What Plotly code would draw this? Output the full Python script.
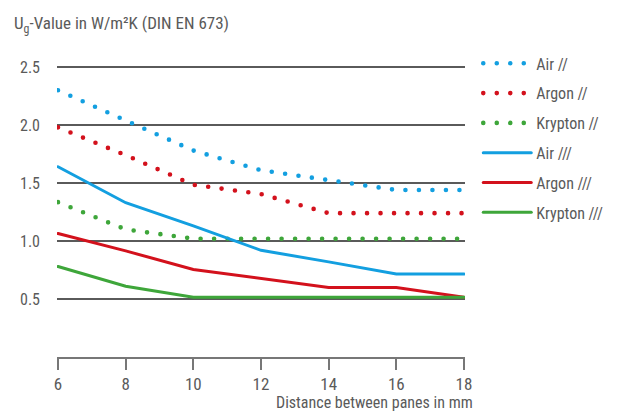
import plotly.graph_objects as go

distance_mm = [6, 8, 10, 12, 14, 16, 18]

air_double = [2.30, 2.04, 1.78, 1.61, 1.525, 1.44, 1.44]
argon_double = [1.98, 1.74, 1.485, 1.405, 1.24, 1.24, 1.24]
krypton_double = [1.335, 1.10, 1.02, 1.02, 1.02, 1.02, 1.02]
air_triple = [1.64, 1.33, 1.13, 0.92, 0.82, 0.715, 0.715]
argon_triple = [1.065, 0.915, 0.755, 0.675, 0.60, 0.60, 0.515]
krypton_triple = [0.78, 0.61, 0.515, 0.515, 0.515, 0.515, 0.515]

y_ticks = [0.5, 1.0, 1.5, 2.0, 2.5]
y_tick_labels = ["0.5", "1.0", "1.5", "2.0", "2.5"]
x_ticks = [6, 8, 10, 12, 14, 16, 18]

BLUE = "#139fe0"
RED = "#d3111c"
GREEN = "#3ea63a"
GRAY = "#5a5a5a"
FONT = "Liberation Sans Narrow, Roboto Condensed, Roboto, Arial"

series = [
    ("Air //", air_double, BLUE, "0px,13.5px", 4.6),
    ("Argon //", argon_double, RED, "0px,13.5px", 4.6),
    ("Krypton //", krypton_double, GREEN, "0px,13.5px", 4.6),
    ("Air ///", air_triple, BLUE, "solid", 3),
    ("Argon ///", argon_triple, RED, "solid", 3),
    ("Krypton ///", krypton_triple, GREEN, "solid", 3),
]

fig = go.Figure()
for i, (name, vals, color, dash, width) in enumerate(series):
    fig.add_trace(go.Scatter(
        x=distance_mm, y=vals, mode="lines", name=name,
        legendgroup=f"g{i}",
        line=dict(color=color, dash=dash, width=width),
    ))

fig.update_layout(
    width=619, height=412,
    margin=dict(l=57, r=153, t=64, b=55, pad=0),
    paper_bgcolor="white", plot_bgcolor="white",
    font=dict(family=FONT, color=GRAY, size=16),
    showlegend=True,
    legend=dict(
        x=1.03, y=1.06, xanchor="left", yanchor="top",
        font=dict(size=16, color=GRAY, family=FONT),
        tracegroupgap=6, itemwidth=48, bgcolor="rgba(0,0,0,0)",
    ),
    xaxis=dict(
        range=[5.97, 18.03], tickvals=x_ticks,
        showgrid=False, zeroline=False,
        showline=True, linecolor="#777777", linewidth=2,
        ticks="outside", ticklen=11, tickwidth=2, tickcolor="#777777",
        tickfont=dict(size=17, color=GRAY, family=FONT),
        fixedrange=True,
    ),
    yaxis=dict(
        range=[0, 2.526], tickvals=y_ticks, ticktext=y_tick_labels,
        showgrid=True, gridcolor=GRAY, gridwidth=2,
        zeroline=False, showline=False, ticks="",
        ticklabelstandoff=16,
        tickfont=dict(size=16, color=GRAY, family=FONT),
        fixedrange=True,
    ),
    annotations=[
        dict(text="U<sub>g</sub>-Value in W/m²K (DIN EN 673)",
             xref="paper", yref="paper", x=-0.11, y=1.1365,
             xanchor="left", yanchor="middle", showarrow=False,
             font=dict(size=17, color=GRAY, family=FONT)),
        dict(text="Distance between panes in mm",
             xref="paper", yref="paper", x=1.024, y=-0.156,
             xanchor="right", yanchor="middle", showarrow=False,
             font=dict(size=16, color=GRAY, family=FONT)),
    ],
)

post = ("var s=document.createElement('style');"
        "s.innerHTML='body{margin:0} .js-line, .legendlines path{stroke-linecap:round}';"
        "document.head.appendChild(s);")
fig.write_html("out.html", post_script=post, config={"displayModeBar": False})
